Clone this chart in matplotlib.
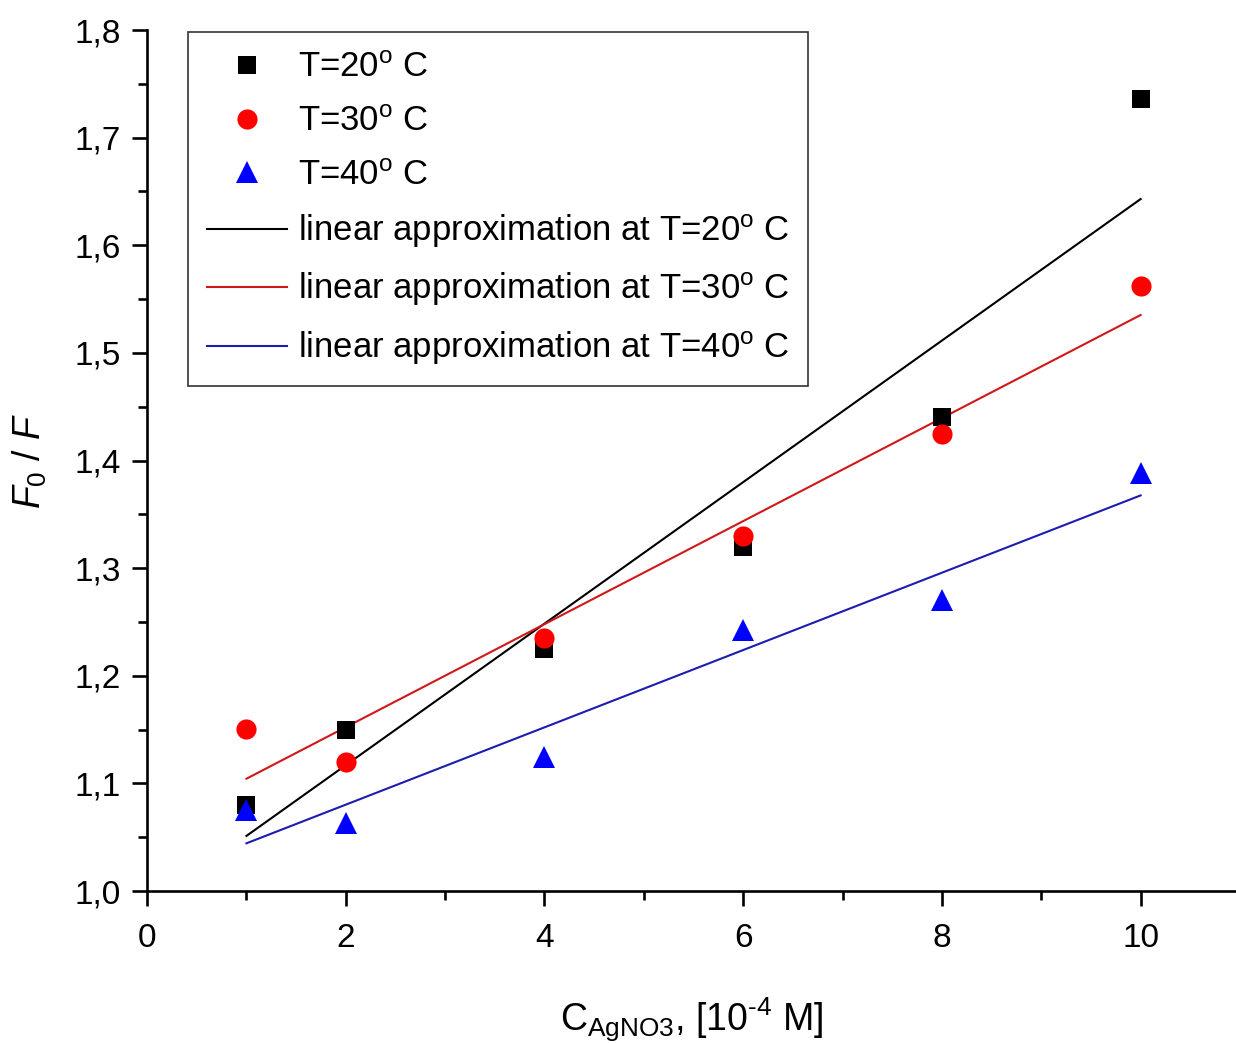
import numpy as np
import matplotlib
matplotlib.use("Agg")
import matplotlib.pyplot as plt
from matplotlib.ticker import MultipleLocator, FuncFormatter

plt.rcParams['font.family'] = ['Liberation Sans', 'DejaVu Sans']
plt.rcParams['mathtext.fontset'] = 'custom'
plt.rcParams['mathtext.rm'] = 'Liberation Sans'
plt.rcParams['mathtext.it'] = 'Liberation Sans:italic'

# AgNO3 concentration, 10^-4 M
conc = [1, 2, 4, 6, 8, 10]
# Quenching ratio F0/F at each temperature
ratio_20 = [1.080, 1.150, 1.225, 1.320, 1.440, 1.736]
ratio_30 = [1.151, 1.120, 1.235, 1.330, 1.425, 1.562]
ratio_40 = [1.075, 1.063, 1.125, 1.243, 1.270, 1.388]

temps = ["20", "30", "40"]
colors = ["black", "#ff0000", "#0000ff"]
line_colors = ["black", "#d01818", "#1c1cb0"]
markers = ["s", "o", "^"]
msizes = [12.5, 14.5, 16]

fig = plt.figure(figsize=(12.36, 10.43), dpi=100)
ax = fig.add_axes([0.119, 0.1457, 0.881, 0.8255])

x = np.array(conc, dtype=float)
series = [ratio_20, ratio_30, ratio_40]

scatter_handles = []
for t, y, c, m, ms in zip(temps, series, colors, markers, msizes):
    h, = ax.plot(x, y, linestyle="none", marker=m, markersize=ms,
                 color=c, markeredgewidth=0, zorder=3,
                 label=r"T=" + t + r"$^{\mathrm{o}}$ C")
    scatter_handles.append(h)

line_handles = []
for t, y, c in zip(temps, series, line_colors):
    k, b = np.polyfit(x, np.array(y), 1)
    xs = np.array([x.min(), x.max()])
    h, = ax.plot(xs, k * xs + b, color=c, linewidth=1.5, zorder=2,
                 label=r"linear approximation at T=" + t + r"$^{\mathrm{o}}$ C")
    line_handles.append(h)

ax.set_xlim(0, 10.96)
ax.set_ylim(1.0, 1.8)

for side in ["top", "right"]:
    ax.spines[side].set_visible(False)
for side in ["left", "bottom"]:
    ax.spines[side].set_linewidth(1.9)

ax.xaxis.set_major_locator(MultipleLocator(2))
ax.xaxis.set_minor_locator(MultipleLocator(1))
ax.yaxis.set_major_locator(MultipleLocator(0.1))
ax.yaxis.set_minor_locator(MultipleLocator(0.05))
ax.yaxis.set_major_formatter(FuncFormatter(lambda v, p: f"{v:.1f}".replace(".", ",")))

ax.tick_params(which="major", direction="out", length=11, width=1.9,
               labelsize=24, pad=8)
ax.tick_params(axis="x", which="major", pad=12)
ax.tick_params(which="minor", direction="out", length=6.5, width=1.9)

ax.set_xlabel(r"C$_{\mathrm{AgNO3}}$, [10$^{\text{-4}}$ M]", fontsize=27, labelpad=30)
ax.set_ylabel(r"$F_{\mathrm{0}}$ / $F$", fontsize=27, labelpad=18)

leg = ax.legend(handles=scatter_handles + line_handles, loc="upper left",
                bbox_to_anchor=(0.0377, 0.998), fontsize=25, frameon=True,
                fancybox=False, edgecolor="#333333", framealpha=1,
                handlelength=2.3, handletextpad=0.3, labelspacing=0.6,
                borderpad=0.55, borderaxespad=0.0)
leg.get_frame().set_linewidth(1.2)

fig.savefig("out.png", dpi=100)
